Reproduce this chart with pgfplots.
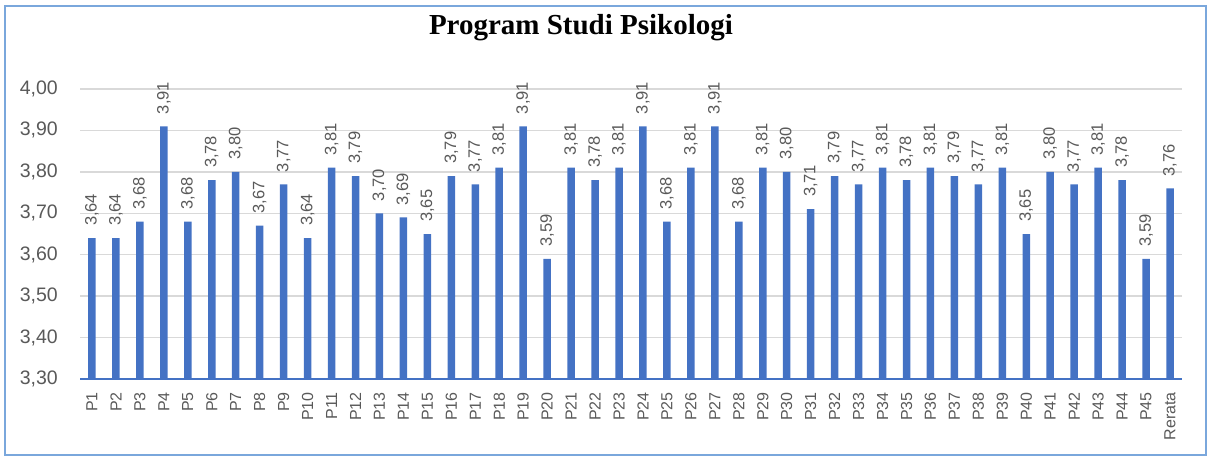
\documentclass[border=0pt]{standalone}
\usepackage{fontspec}
\setmainfont{Liberation Sans}
\newfontfamily\titlefont{Liberation Serif}
\usepackage{pgfplots}
\pgfplotsset{compat=1.18}
\definecolor{barblue}{HTML}{4472C4}
\definecolor{txtgray}{HTML}{595959}
\definecolor{gridgray}{HTML}{D9D9D9}
\definecolor{framebl}{HTML}{7AA7DC}
\begin{document}
\begin{tikzpicture}[x=1pt,y=1pt]
\useasboundingbox (0,0) rectangle (1209,-457);
\draw[framebl, line width=1.5pt] (5,-6) rectangle (1206,-455);
\node[anchor=base, font=\titlefont\bfseries\fontsize{29}{31}\selectfont] at (581,-35) {Program Studi Psikologi};
\begin{axis}[
  at={(80pt,-379pt)}, anchor=south west,
  scale only axis, width=1102pt, height=290pt,
  xmin=-0.5, xmax=45.5, ymin=3.3, ymax=4.0,
  ybar, bar width=7.5pt,
  clip mode=individual,
  ytick={3.3,3.4,3.5,3.6,3.7,3.8,3.9,4.0},
  xtick=data,
  xticklabels={P1,P2,P3,P4,P5,P6,P7,P8,P9,P10,P11,P12,P13,P14,P15,P16,P17,P18,P19,P20,P21,P22,P23,P24,P25,P26,P27,P28,P29,P30,P31,P32,P33,P34,P35,P36,P37,P38,P39,P40,P41,P42,P43,P44,P45,Rerata},
  /pgf/number format/.cd, fixed, fixed zerofill, precision=2, use comma, assume math mode=true,
  /pgfplots/.cd,
  axis x line*=bottom, axis y line*=left,
  y axis line style={draw=none},
  x axis line style={draw=barblue, line width=1.5pt, -},
  major tick length=0pt,
  tick style={draw=none},
  ymajorgrids, grid style={draw=gridgray, line width=1.3pt},
  yticklabel style={font=\fontsize{19.5}{20}\selectfont, text=txtgray, anchor=east, inner sep=0pt, xshift=-22pt},
  xticklabel style={font=\fontsize{16}{17}\selectfont, text=txtgray, rotate=90, anchor=east, inner xsep=13pt, inner ysep=0pt},
  nodes near coords,
  every node near coord/.append style={font=\fontsize{16.5}{17}\selectfont, text=txtgray, rotate=90, anchor=west, inner xsep=12pt, inner ysep=0pt},
]
\addplot[fill=barblue, draw=none] coordinates {
(0,3.64) (1,3.64) (2,3.68) (3,3.91) (4,3.68) (5,3.78) (6,3.80) (7,3.67) (8,3.77) (9,3.64)
(10,3.81) (11,3.79) (12,3.70) (13,3.69) (14,3.65) (15,3.79) (16,3.77) (17,3.81) (18,3.91) (19,3.59)
(20,3.81) (21,3.78) (22,3.81) (23,3.91) (24,3.68) (25,3.81) (26,3.91) (27,3.68) (28,3.81) (29,3.80)
(30,3.71) (31,3.79) (32,3.77) (33,3.81) (34,3.78) (35,3.81) (36,3.79) (37,3.77) (38,3.81) (39,3.65)
(40,3.80) (41,3.77) (42,3.81) (43,3.78) (44,3.59) (45,3.76)
};
\end{axis}
\end{tikzpicture}
\end{document}
